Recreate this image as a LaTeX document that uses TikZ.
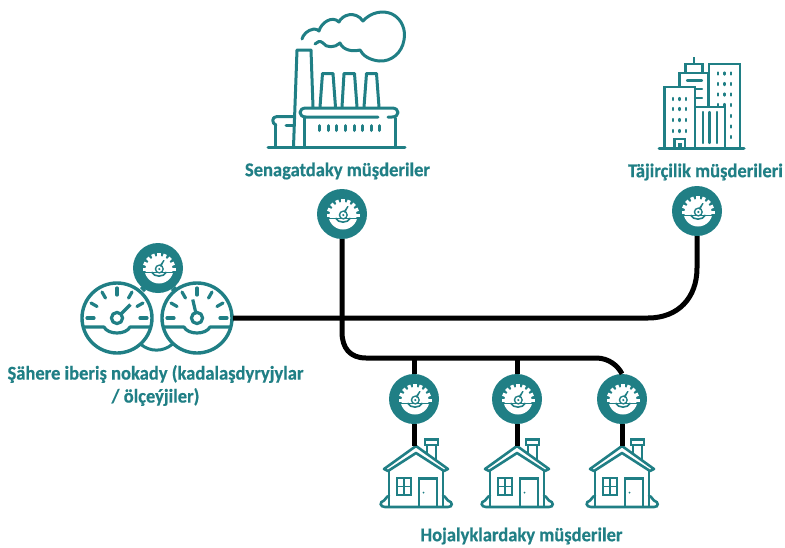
\documentclass[tikz,border=0pt]{standalone}
\usepackage{fontspec}
\setmainfont{Carlito}[FakeStretch=0.95,BoldFeatures={FakeBold=0.5,FakeStretch=0.95}]
\definecolor{teal1}{HTML}{207F85}
\tikzset{
  x=1pt,y=-1pt,
  line/.style={draw=teal1,line width=3pt,line join=round,line cap=round,fill=none},
  thin1/.style={draw=teal1,line width=2.6pt,line join=miter,fill=none},
  wire/.style={draw=black,line width=5pt},
  lab/.style={text=teal1,font=\bfseries\fontsize{19.5}{23}\selectfont,inner sep=0pt,align=center},
  gaugenode/.style={circle,fill=teal1,minimum size=50pt,inner sep=0pt,draw=none},
  pt/.style={inner sep=0pt,minimum size=0pt}
}
\newcommand\gaugeicon[1]{%
  \begin{scope}[shift={(#1)}]
    % lower bowl
    \begin{scope}
      \clip (-20,5) rectangle (20,20);
      \fill[white] (1,1) circle[radius=14.5];
    \end{scope}
    % upper dial with teeth
    \begin{scope}
      \clip (-20,-20) rectangle (20,3.2);
      \fill[white] (1,1.5) circle[radius=13.5];
      \foreach \a in {-180,-157.5,-135,-112.5,-90,-67.5,-45,-22.5,0}
        \draw[white,line width=3.4pt] (1,1.5) ++(\a:12) -- ++(\a:4.5);
    \end{scope}
    % dip around the hub
    \draw[teal1,line width=1.6pt] (-6.5,4) .. controls (-4,9.5) and (6,9.5) .. (8.5,4);
    \fill[teal1] (1.3,1) circle[radius=4.6];
    \fill[white] (1.3,1) circle[radius=3];
    \fill[teal1] (1.3,1) circle[radius=1.2];
    \fill[teal1] (3.4,-1.6) -- (6.6,-7.6) -- (5.4,-8) -- (1.4,-2.2) -- cycle;
  \end{scope}}
\newcommand\housedraw[1]{%
  \begin{scope}[shift={(#1)}]
    % chimney
    \draw[thin1] (11,10) -- (11,-1) (20,16) -- (20,-1);
    \draw[thin1] (9,-5.5) rectangle (22,0);
    % roof
    \draw[thin1,line join=round] (-32,24) -- (0,1) -- (32,24) -- (28,26) -- (0,8) -- (-28,26) -- cycle;
    % walls
    \draw[thin1] (-27,26) -- (-27,62) (27,26) -- (27,62);
    % base
    \draw[thin1,line cap=round] (-27,51) .. controls (-30,51) and (-30,55) .. (-32,55.5) .. controls (-37,57) and (-36,62) .. (-31,62) -- (32,62) .. controls (37,62) and (37,57) .. (32,55.5) .. controls (30,55) and (30,51) .. (27,51);
    % window
    \draw[thin1] (-19,33) rectangle (-5,50);
    \draw[teal1,line width=1.8pt] (-12,33) -- (-12,50) (-19,41.5) -- (-5,41.5);
    % door
    \draw[thin1] (3,62) -- (3,33.5) -- (21,33.5) -- (21,62);
    \fill[teal1] (7.5,47.5) circle[radius=1];
  \end{scope}}
\newcommand\dial[3]{%
  \begin{scope}[shift={(#1)}]
    \draw[line,line width=3.4pt] (0,0) circle[radius=35];
    \foreach \a in {#3}
      \draw[line,line width=3.2pt] (0,0) ++(\a:23) -- ++(\a:7);
    \draw[line,line width=3.2pt,line cap=butt] (-34.5,9) -- (-13,9) .. controls (-9,17) and (9,17) .. (13,9) -- (34.5,9);
    \fill[white] (0,0) circle[radius=7];
    \draw[line,line width=3.2pt] (0,0) circle[radius=5.6];
    \draw[line,line width=3.2pt,line cap=butt] (#2:5.6) -- (#2:19);
  \end{scope}}
\begin{document}
\begin{tikzpicture}
\useasboundingbox (0,0) rectangle (785,547);
% ---- factory
\draw[line] (268,147) -- (405,147);
\draw[line] (293.5,147) -- (297,50) -- (311,50) -- (313,107);
\draw[line] (320,107) -- (322.5,73.5) -- (333,73.5) -- (335.5,107);
\draw[line] (342,107) -- (344,73.5) -- (354.5,73.5) -- (357,107);
\draw[line] (364,107) -- (366.5,73.5) -- (376.5,73.5) -- (379,107);
\draw[line] (304,147) -- (304,117.5);
\draw[line] (395,147) -- (395,118);
\draw[line] (378,117) -- (306,117) .. controls (298,117) and (298,108) .. (306,108) -- (392,108) .. controls (400,108) and (400,117) .. (392,117) -- (388,117);
\draw[line] (293,116.5) -- (277,116.5) .. controls (271,116.5) and (272,124) .. (276,125);
\draw[line] (275,125) -- (275,147);
\draw[line] (286,125) -- (293,125);
\foreach \x in {319,328,336.5,345,354,362.5,371,379.5}
  \draw[line] (\x,125.5) -- (\x,130.5);
\draw[line] (302,39) .. controls (303,35) and (307,30) .. (314,29) .. controls (316,29) and (318,30) .. (319,31)
 .. controls (321,23) and (332,15) .. (339,22)
 .. controls (342,15) and (355,10) .. (363,21)
 .. controls (371,12) and (383,10) .. (392,14)
 .. controls (402,19) and (406,30) .. (404,40)
 .. controls (402,53) and (391,62) .. (379,61)
 .. controls (370,60) and (363,56) .. (360,50)
 .. controls (352,52) and (343,50) .. (340,43)
 .. controls (335,48) and (326,48) .. (323,43)
 .. controls (320,40) and (317,42) .. (315,44);
% ---- commercial buildings
\draw[line] (659,148) -- (744,148);
\draw[thin1] (664.5,148) -- (664.5,87) -- (695,87) -- (695,148);
\draw[thin1] (679.5,87) -- (679.5,73) -- (708,73) -- (708,107);
\draw[thin1] (685.5,73) -- (685.5,64) -- (702.5,64) -- (702.5,73);
\draw[thin1] (694,64) -- (694,57);
\draw[thin1] (709,107) -- (709,64) -- (740,64) -- (740,148);
\draw[thin1] (695,107) -- (725,107) -- (725,148);
\draw[thin1] (674.5,148) -- (674.5,139) -- (685,139) -- (685,148);
\draw[teal1,line width=1.4pt] (679,148) -- (679,144) -- (681,144) -- (681,148);
\draw[line,line width=2.2pt] (687,80.5) -- (702,80.5) (695,89) -- (702,89) (695,98) -- (702,98);
\draw[line,line width=2.2pt] (703,112) -- (703,143) (709.5,112) -- (709.5,143) (717,112) -- (717,143);
\foreach \y in {99,109,120,131} \foreach \x in {673,679.5,686}
  \draw[line,line width=2.4pt] (\x,\y-1) -- (\x,\y+1);
\foreach \y in {73.5,84,94.5,105} \foreach \x in {718,724.5,731}
  \draw[line,line width=2.4pt] (\x,\y-1) -- (\x,\y+1);
\foreach \y in {116,126.5,137}
  \draw[line,line width=2.4pt] (731,\y-1) -- (731,\y+1);
% ---- dials
\dial{117,318}{-45}{0,-30,-60,-90,-120,-150,180}
\dial{197,318}{-103}{0,-30,-60,-90,-120,-150,180}
\draw[line] (141,344.5) .. controls (150,352) and (163,352) .. (172,344.5);
\draw[line,line cap=butt] (141,287) -- (145,291) (172,291) -- (176,287);
% ---- houses
\housedraw{416,445}
\housedraw{517,445}
\housedraw{622,445}
% ---- gauges
\node[gaugenode] (gs) at (158,268) {};
\node[gaugenode] (gf) at (342,214) {};
\node[gaugenode] (gc) at (697,211) {};
\node[gaugenode] (ga) at (414,399) {};
\node[gaugenode] (gb) at (517,399) {};
\node[gaugenode] (gd) at (622,399) {};
\gaugeicon{gs}\gaugeicon{gf}\gaugeicon{gc}\gaugeicon{ga}\gaugeicon{gb}\gaugeicon{gd}
% ---- anchors for house and dial connectors
\coordinate (src) at (233,318);
\coordinate (ha) at (414,446);
\coordinate (hb) at (517,446);
\coordinate (hd) at (622,446);
\coordinate (ja) at (414,358);
\coordinate (jb) at (517,358);
% ---- wires
\draw[wire] (src) -- (648,318) .. controls (678,318) and (697,298) .. (697,268) -- (gc.south);
\draw[wire] (gf.south) -- (342,332) .. controls (342,348) and (350,358) .. (366,358) -- (596,358) .. controls (609,358) and (618,366) .. (gd.north);
\draw[wire] (ja) -- (ga.north);
\draw[wire] (jb) -- (gb.north);
\draw[wire] (ga.south) -- (ha);
\draw[wire] (gb.south) -- (hb);
\draw[wire] (gd.south) -- (hd);
% ---- labels
\node[lab] (t1) at (337.5,171) {Senagatdaky müşderiler};
\node[lab] (t2) at (705.5,172) {Täjirçilik müşderileri};
\node[lab] (t3) at (155.5,385.5) {Şähere iberiş nokady (kadalaşdyryjylar\\/ ölçeýjiler)};
\node[lab] (t4) at (521.5,536) {Hojalyklardaky müşderiler};
\end{tikzpicture}
\end{document}
